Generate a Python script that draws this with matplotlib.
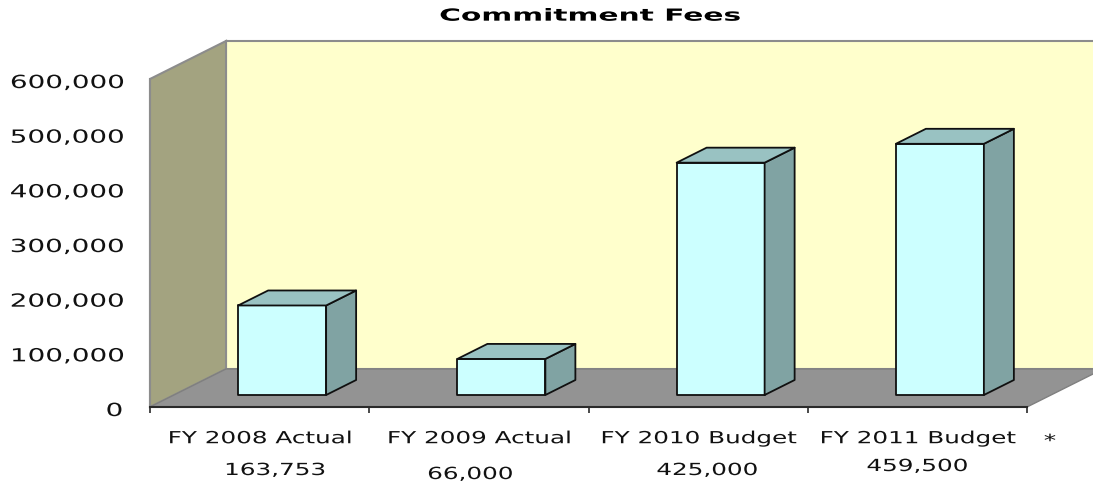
#!/usr/bin/env python3

import matplotlib

matplotlib.use("Agg")
import matplotlib.pyplot as plt
import numpy as np
from matplotlib.patheffects import AbstractPathEffect
from matplotlib.transforms import Affine2D

categories = ["FY 2008 Actual", "FY 2009 Actual", "FY 2010 Budget", "FY 2011 Budget"]
values = [163753, 66000, 425000, 459500]
value_labels = ["163,753", "66,000", "425,000", "459,500"]
y_ticks = [0, 100000, 200000, 300000, 400000, 500000, 600000]

# label centres in the figure, these were placed by hand in the original
label_x_px = [275, 470, 707, 917]
label_y_px = [470, 474, 470, 466]

W, H = 1093, 483
LEFT, RIGHT, BOTTOM, TOP = 150, 1027, 407, 79
YMAX = 600000

# 3d look, all in axis units
CAT_PX = (RIGHT - LEFT) / len(categories)
PX_X = 1 / CAT_PX
PX_Y = YMAX / (BOTTOM - TOP)
WALL_DX = 76 * PX_X
WALL_DY = 38 * PX_Y
BAR_W = 88 * PX_X
BAR_DX = 30 * PX_X
BAR_DY = 15 * PX_Y
BAR_OFF_X = 22.5 * PX_X
BAR_OFF_Y = 12 * PX_Y


class StretchX(AbstractPathEffect):
    # the original text is wide, like Verdana squeezed into a low chart
    def __init__(self, text, k):
        super().__init__()
        self.text = text
        self.k = k

    def draw_path(self, renderer, gc, tpath, affine, rgbFace=None):
        cx = self.text.get_transform().transform(self.text.get_position())[0]
        wide = affine + Affine2D().translate(-cx, 0).scale(self.k, 1).translate(cx, 0)
        renderer.draw_path(gc, tpath, wide, rgbFace)


def stretch(text, k=1.48):
    text.set_path_effects([StretchX(text, k)])


fig = plt.figure(figsize=(W / 100, H / 100), dpi=100)
ax = fig.add_axes(
    [LEFT / W, 1 - BOTTOM / H, (RIGHT - LEFT) / W, (BOTTOM - TOP) / H]
)
ax.set_xlim(0, len(categories))
ax.set_ylim(0, YMAX)
ax.patch.set_visible(False)

n = len(categories)
wall_edge = "#8c8c8c"

# back wall
ax.fill(
    [WALL_DX, n + WALL_DX, n + WALL_DX, WALL_DX],
    [WALL_DY, WALL_DY, YMAX + WALL_DY, YMAX + WALL_DY],
    facecolor="#ffffcc",
    edgecolor=wall_edge,
    linewidth=1.5,
    clip_on=False,
    zorder=1,
)
# side wall
ax.fill(
    [0, WALL_DX, WALL_DX, 0],
    [0, WALL_DY, YMAX + WALL_DY, YMAX],
    facecolor="#a3a380",
    edgecolor=wall_edge,
    linewidth=1.5,
    clip_on=False,
    zorder=1,
)
# floor
ax.fill(
    [0, n, n + WALL_DX, WALL_DX],
    [0, 0, WALL_DY, WALL_DY],
    facecolor="#939393",
    edgecolor="#808080",
    linewidth=1,
    clip_on=False,
    zorder=2,
)

# bars
for i, v in enumerate(values):
    x0 = i + (1 - BAR_W) / 2 + BAR_OFF_X
    x1 = x0 + BAR_W
    y0 = BAR_OFF_Y
    y1 = y0 + v
    style = dict(edgecolor="#101010", linewidth=1.3, clip_on=False, zorder=3, joinstyle="round")
    ax.fill([x0, x1, x1, x0], [y0, y0, y1, y1], facecolor="#ccffff", **style)
    ax.fill(
        [x1, x1 + BAR_DX, x1 + BAR_DX, x1],
        [y0, y0 + BAR_DY, y1 + BAR_DY, y1],
        facecolor="#80a3a3",
        **style,
    )
    ax.fill(
        [x0, x1, x1 + BAR_DX, x0 + BAR_DX],
        [y1, y1, y1 + BAR_DY, y1 + BAR_DY],
        facecolor="#99c2c2",
        **style,
    )

for side in ["top", "right"]:
    ax.spines[side].set_visible(False)
ax.spines["bottom"].set_linewidth(1.5)
ax.spines["bottom"].set_color("#2a2a2a")
ax.spines["bottom"].set_zorder(4)
ax.spines["left"].set_linewidth(1.5)
ax.spines["left"].set_color(wall_edge)
ax.spines["left"].set_zorder(4)

ax.set_yticks(y_ticks)
ax.set_yticklabels([f"{t:,}" for t in y_ticks], fontsize=13, color="#111111")
ax.tick_params(axis="y", length=0, pad=19.5)

ax.set_xticks(np.arange(n + 1))
ax.set_xticklabels([])
ax.tick_params(axis="x", which="major", length=4.5, width=1.2, color="#2a2a2a")
ax.set_xticks(np.arange(n) + 0.5, minor=True)
ax.set_xticklabels(categories, minor=True, fontsize=12, color="#111111")
ax.tick_params(axis="x", which="minor", length=0, pad=16)

for t in ax.get_yticklabels():
    t.set_transform(t.get_transform() + Affine2D().translate(0, -2))
    stretch(t, 1.54)
for t in ax.get_xticklabels(minor=True):
    stretch(t)

title = ax.set_title("Commitment Fees", fontsize=12, fontweight="bold", pad=42, x=0.502)
stretch(title, 1.78)

for s, x, y in zip(value_labels, label_x_px, label_y_px):
    stretch(fig.text(x / W, 1 - y / H, s, fontsize=12, color="#111111", ha="center", va="center"))

stretch(fig.text(1050 / W, 1 - 441 / H, "*", fontsize=12, color="#111111", ha="center", va="center"))

fig.savefig("out.png", dpi=100)
